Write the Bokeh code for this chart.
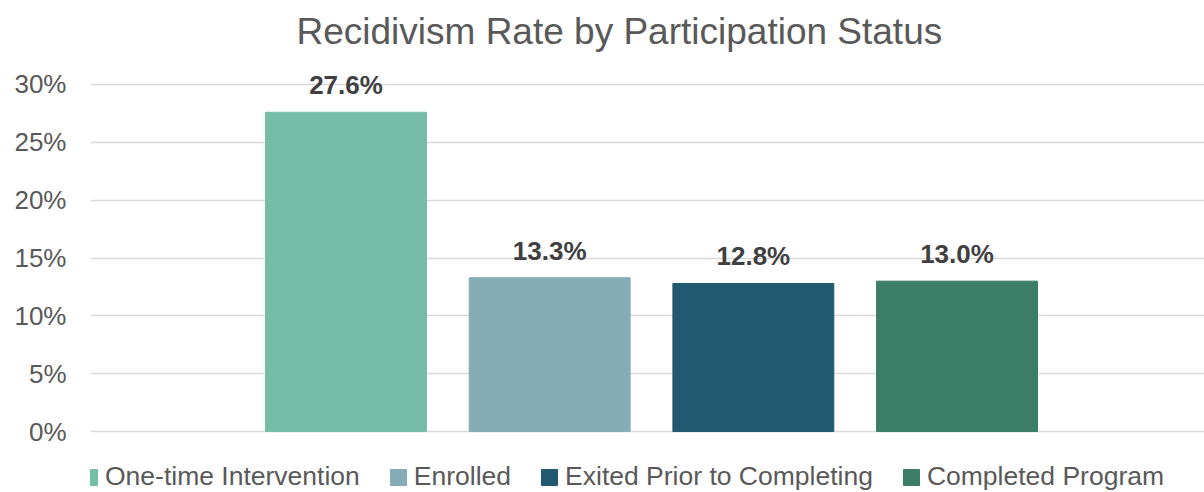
from bokeh.plotting import figure
from bokeh.models import ColumnDataSource, Range1d, FixedTicker, NumeralTickFormatter, LabelSet, Legend, LegendItem
from bokeh.core.properties import value
from bokeh.embed import file_html
from bokeh.resources import INLINE

# Data
statuses = ["One-time Intervention", "Enrolled", "Exited Prior to Completing", "Completed Program"]
rates = [0.276, 0.133, 0.128, 0.130]
colors = ["#76BDA7", "#86ACB7", "#215A70", "#3C7D68"]
y_ticks = [0, 0.05, 0.10, 0.15, 0.20, 0.25, 0.30]

FONT = "Liberation Sans"

source = ColumnDataSource(dict(
    x=list(range(len(statuses))),
    name=statuses,
    rate=rates,
    color=colors,
    label=[f"{r * 100:.1f}%" for r in rates],
))

p = figure(width=1204, height=492, output_backend="svg", toolbar_location=None,
           x_range=Range1d(-1.2545, 4.2151), y_range=Range1d(-0.0527, 0.3242),
           min_border_left=90, min_border_right=0, min_border_top=56, min_border_bottom=0)

p.title.text = "Recidivism Rate by Participation Status"
p.title.align = "left"
p.title.offset = 206
p.title.text_font = FONT
p.title.text_font_size = "37px"
p.title.text_font_style = "normal"
p.title.text_color = "#595959"

bars = p.vbar(x="x", top="rate", width=0.79, color="color", source=source)

labels = LabelSet(x="x", y="rate", text="label", source=source, y_offset=18,
                  text_align="center", text_baseline="alphabetic",
                  text_font=value(FONT), text_font_size=value("26px"), text_font_style="bold",
                  text_color="#404040")
p.add_layout(labels)

p.xaxis.visible = False
p.xgrid.grid_line_color = None
p.ygrid.grid_line_color = "#d9d9d9"
p.ygrid.grid_line_width = 1.5
p.yaxis.ticker = FixedTicker(ticks=y_ticks)
p.yaxis.formatter = NumeralTickFormatter(format="0%")
p.yaxis.axis_line_color = None
p.yaxis.major_tick_line_color = None
p.yaxis.minor_tick_line_color = None
p.yaxis.major_label_text_font = FONT
p.yaxis.major_label_text_font_size = "26px"
p.yaxis.major_label_text_color = "#595959"
p.yaxis.major_label_standoff = 18
p.outline_line_color = None

items = [LegendItem(label=name, renderers=[bars], index=i) for i, name in enumerate(statuses)]
legend = Legend(items=items, orientation="horizontal", location=(-11, 0))
legend.border_line_color = None
legend.background_fill_alpha = 0
legend.label_text_font = FONT
legend.label_text_font_size = "26.5px"
legend.label_text_color = "#595959"
legend.glyph_width = 20
legend.glyph_height = 20
legend.label_standoff = 6
legend.spacing = 28
legend.padding = 0
legend.margin = 0
p.add_layout(legend, "center")

open("out.html", "w").write(file_html(p, INLINE))
